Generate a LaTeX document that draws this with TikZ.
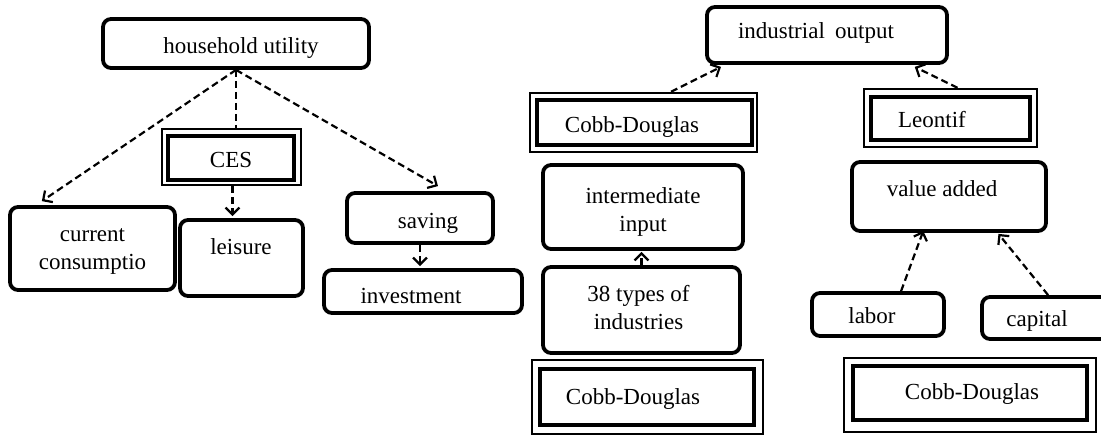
\documentclass[tikz,border=0pt]{standalone}
\usepackage{fontspec}
\setmainfont{Liberation Serif}
\usetikzlibrary{arrows.meta,fit,calc}
\tikzset{
  rbox/.style={draw, line width=3.8pt, rounded corners=8pt, inner sep=0pt},
  obox/.style={draw, line width=2.4pt, inner sep=0pt},
  ibox/.style={draw, line width=3.8pt, inner sep=0pt},
  txt/.style={font=\fontsize{23}{28}\selectfont, inner sep=0pt, anchor=base, align=center},
  conn/.style={line width=2.2pt, dash pattern=on 7pt off 4pt},
  arr/.style={conn, -{Straight Barb[length=7pt,width=14pt,line width=2.2pt]}}
}
\begin{document}
\begin{tikzpicture}[x=1pt,y=-1pt]
\useasboundingbox (0,0) rectangle (1101,435);
\clip (0,0) rectangle (1101,435);
% left tree
\node[rbox, fit={(103,19) (369,68)}] (hu) {};
\node[txt] (hut) at (241,54) {household utility};
\node[obox, fit={(162,129) (301,185)}] (cesO) {};
\node[ibox, fit={(168,136) (294,180)}] (cesI) {};
\node[txt] (cest) at (231,168) {CES};
\node[rbox, fit={(10,207) (175,290)}] (cc) {};
\node[txt] (cct) at (92.5,270) {current\\consumptio};
\node[rbox, fit={(180,220) (303,296)}] (lei) {};
\node[txt] (leit) at (241,255) {leisure};
\node[rbox, fit={(347,193) (493,243)}] (sav) {};
\node[txt] (savt) at (428,229) {saving};
\node[rbox, fit={(324,270) (522,313)}] (inv) {};
\node[txt] (invt) at (411,304) {investment};
% right tree
\node[rbox, fit={(707,7) (947,63)}] (io) {};
\node[txt] (iot) at (816,39) {industrial\hspace{0.45em}output};
\node[obox, fit={(530,93) (757,152)}] (cdtO) {};
\node[ibox, fit={(537,100) (752,145)}] (cdtI) {};
\node[txt] (cdtt) at (632,133) {Cobb-Douglas};
\node[obox, fit={(864,89) (1037,147)}] (leoO) {};
\node[ibox, fit={(871,97) (1030,140)}] (leoI) {};
\node[txt] (leot) at (932,128) {Leontif};
\node[rbox, fit={(543,165) (743,249)}] (ii) {};
\node[txt] (iit) at (643,232) {intermediate\\input};
\node[rbox, fit={(543,267) (740,353)}] (ty) {};
\node[txt] (tyt) at (638.5,330) {38 types of\\industries};
\node[obox, fit={(532,360) (763,434)}] (cdbO) {};
\node[ibox, fit={(540,369) (754,425)}] (cdbI) {};
\node[txt] (cdbt) at (633,405) {Cobb-Douglas};
\node[rbox, fit={(852,162) (1046,231)}] (va) {};
\node[txt] (vat) at (942,197) {value added};
\node[rbox, fit={(812,293) (944,336)}] (lab) {};
\node[txt] (labt) at (872,324) {labor};
\node[rbox, fit={(982,297) (1130,339)}] (cap) {};
\node[txt] (capt) at (1037,327) {capital};
\node[obox, fit={(844,358) (1096,432)}] (cdrO) {};
\node[ibox, fit={(853,366) (1087,420)}] (cdrI) {};
\node[txt] (cdrt) at (972,400) {Cobb-Douglas};
% connectors left
\draw[arr] (hu.south) -- ($(cc.north west)!0.2!(cc.north east)+(0,-4)$);
\draw[conn] (hu.south) -- (hu.south |- cesO.north);
\draw[arr] (hu.south) -- ($(sav.north west)!0.62!(sav.north east)+(0,-5)$);
\draw[arr] ($(cesO.south)+(1,0)$) -- ($(cesO.south |- lei.north)+(1,-2)$);
\draw[arr] (sav.south) -- ($(sav.south |- inv.north)+(0,-2)$);
% connectors right
\draw[arr] ($(cdtO.north west)!0.62!(cdtO.north east)$) -- ($(io.south west)!0.065!(io.south east)+(0,2)$);
\draw[arr] ($(leoO.north west)!0.54!(leoO.north east)$) -- ($(io.south west)!0.86!(io.south east)+(0,2)$);
\draw[arr] (ty.north) -- ($(ty.north |- ii.south)+(0,1)$);
\draw[arr] ($(lab.north west)!0.67!(lab.north east)$) -- ($(va.south west)!0.37!(va.south east)+(0,-2)$);
\draw[arr] ($(cap.north west)+(68,0)$) -- ($(va.south west)!0.75!(va.south east)+(0,1)$);
\end{tikzpicture}
\end{document}
